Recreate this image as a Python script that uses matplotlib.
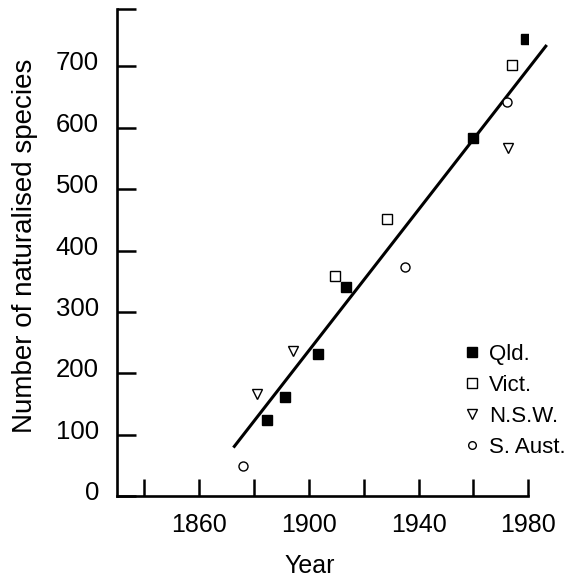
import matplotlib.pyplot as plt
from matplotlib.lines import Line2D
from matplotlib.transforms import ScaledTranslation

plt.rcParams["font.family"] = ["Liberation Sans", "DejaVu Sans"]

# Naturalised species counts by state
qld_year = [1884.7, 1891.1, 1903.2, 1913.7, 1960.0, 1979.2]
qld_count = [124, 162, 231, 341, 584, 744]
vict_year = [1909.6, 1928.5, 1974.0]
vict_count = [359, 452, 703]
nsw_year = [1881.1, 1894.1, 1972.6]
nsw_count = [167, 236, 567]
sa_year = [1876.0, 1934.9, 1972.4]
sa_count = [49, 374, 642]

# Fitted line end points
fit_year = [1872.8, 1986.4]
fit_count = [81, 733]

series_labels = ["Qld.", "Vict.", "N.S.W.", "S. Aust."]

x_ticks = [1840, 1860, 1880, 1900, 1920, 1940, 1960, 1980]
x_tick_labels = ["", "1860", "", "1900", "", "1940", "", "1980"]
y_ticks = [0, 100, 200, 300, 400, 500, 600, 700, 793]
y_tick_labels = ["0", "100", "200", "300", "400", "500", "600", "700", ""]

fig = plt.figure(figsize=(5.68, 5.85), dpi=100)
ax = fig.add_axes([0.206, 0.152, 0.724, 0.832])

ax.plot(fit_year, fit_count, color="black", lw=2.2, clip_on=False, zorder=2)

ax.plot(qld_year, qld_count, ls="none", marker="s", ms=7.7, mfc="black", mec="black", zorder=3)
ax.plot(vict_year, vict_count, ls="none", marker="s", ms=7.2, mfc="white", mec="black", mew=1.0, zorder=3)
ax.plot(nsw_year, nsw_count, ls="none", marker="v", ms=7.5, mfc="white", mec="black", mew=1.0, zorder=3)
ax.plot(sa_year, sa_count, ls="none", marker="o", ms=6.5, mfc="white", mec="black", mew=1.0, zorder=3)

ax.set_xlim(1830, 1980)
ax.set_ylim(0, 793)

for side in ["top", "right"]:
	ax.spines[side].set_visible(False)
for side in ["left", "bottom"]:
	ax.spines[side].set_linewidth(1.9)

ax.set_xticks(x_ticks)
ax.set_xticklabels(x_tick_labels)
ax.set_yticks(y_ticks)
ax.set_yticklabels(y_tick_labels)
ax.tick_params(axis="x", direction="in", length=12, width=1.8, pad=12, labelsize=18)
ax.tick_params(axis="y", direction="in", length=13.5, width=1.8, pad=13, labelsize=18.5)

# y labels sit a little above their ticks in the original
lift = ScaledTranslation(0, 4 / 72, fig.dpi_scale_trans)
for lbl in ax.get_yticklabels():
	lbl.set_transform(lbl.get_transform() + lift)

ax.set_xlabel("Year", fontsize=18)
ax.set_ylabel("Number of naturalised species", fontsize=20)
ax.xaxis.set_label_coords(0.468, -0.118)
ax.yaxis.set_label_coords(-0.193, 0.515)

handles = [
	Line2D([], [], ls="none", marker="s", ms=6.5, mfc="black", mec="black"),
	Line2D([], [], ls="none", marker="s", ms=6.5, mfc="white", mec="black", mew=1.0),
	Line2D([], [], ls="none", marker="v", ms=6.5, mfc="white", mec="black", mew=1.0),
	Line2D([], [], ls="none", marker="o", ms=5.5, mfc="white", mec="black", mew=1.0),
]
ax.legend(
	handles,
	series_labels,
	loc="upper left",
	bbox_to_anchor=(0.842, 0.313),
	frameon=False,
	fontsize=16,
	handlelength=0.8,
	handletextpad=0.35,
	labelspacing=0.45,
	borderaxespad=0,
	borderpad=0,
)

fig.savefig("out.png", dpi=100)
